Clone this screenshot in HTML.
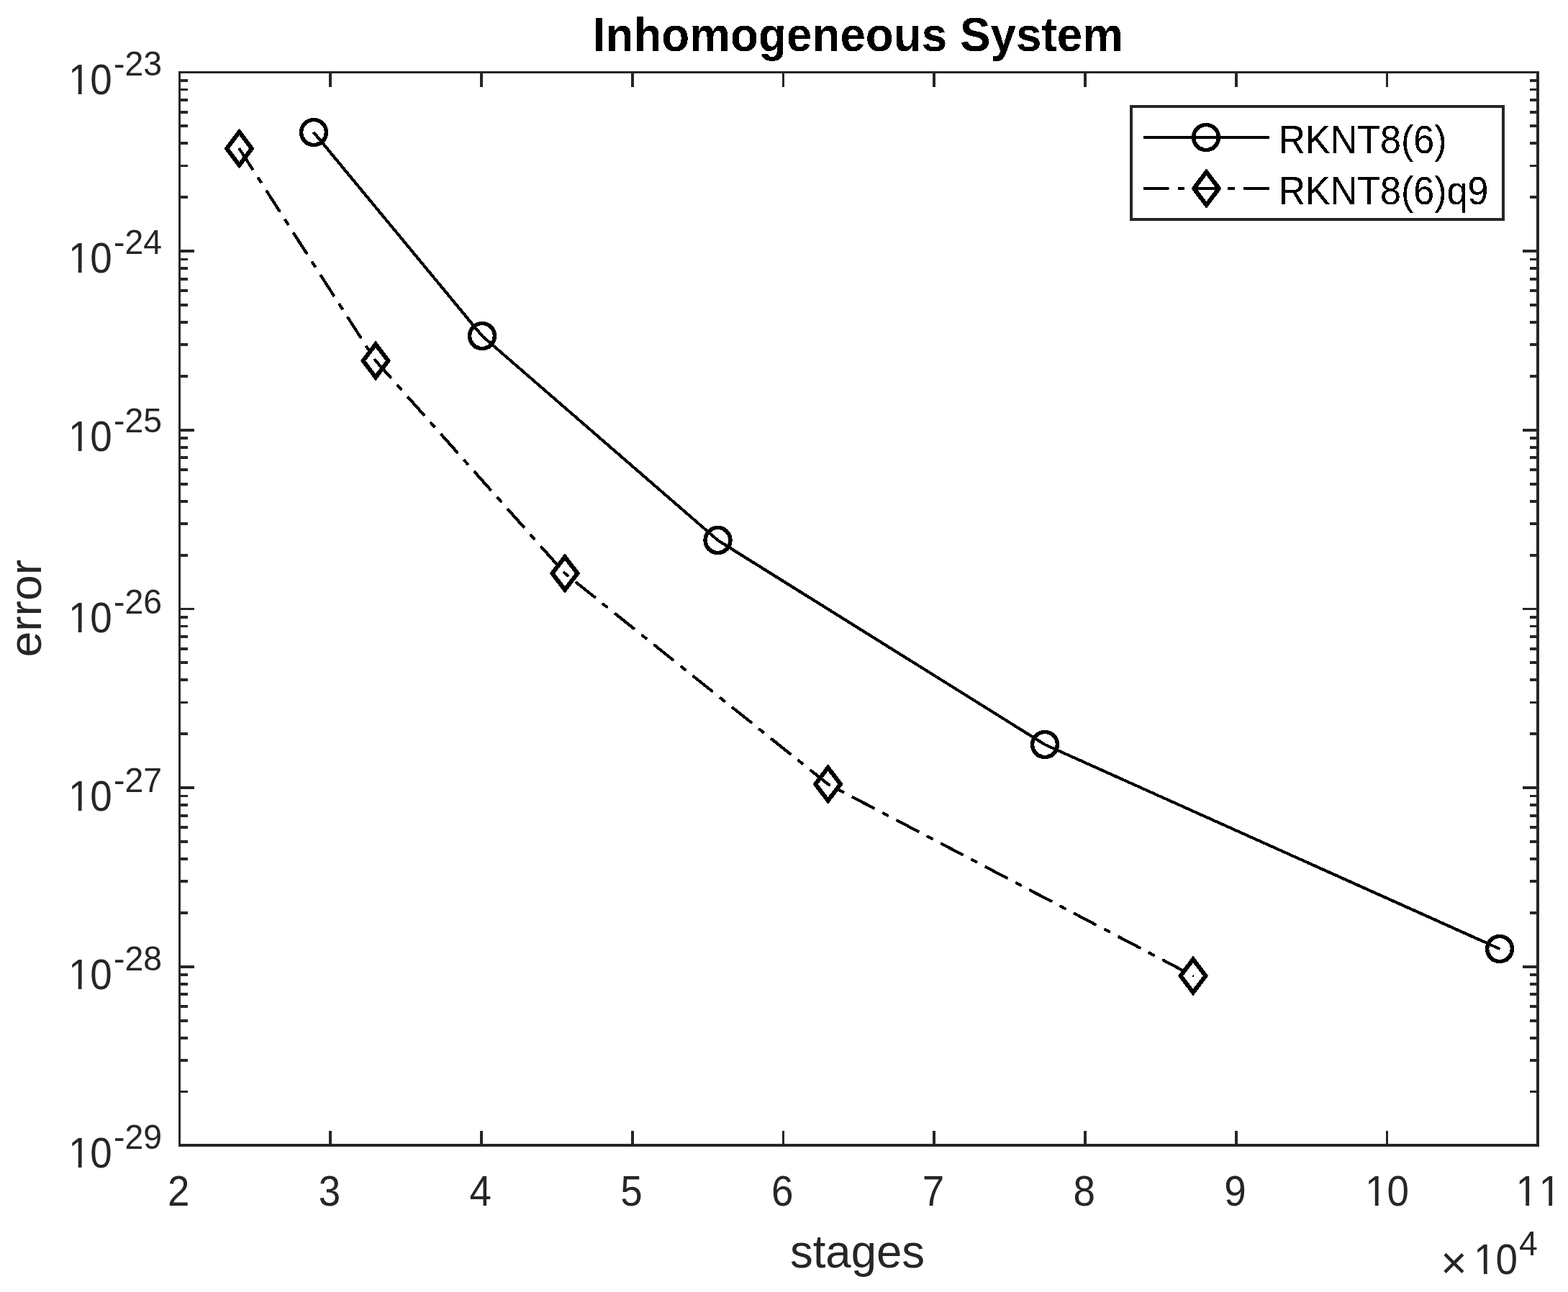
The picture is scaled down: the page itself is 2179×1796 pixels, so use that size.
<!DOCTYPE html>
<html lang="en"><head><meta charset="utf-8"><title>Inhomogeneous System</title>
<style>
html,body{margin:0;padding:0;background:#fff;}
body{width:2179px;height:1796px;overflow:hidden;}
svg{display:block;}
text{white-space:pre;font-kerning:none;font-variant-ligatures:none;}
</style></head><body>
<svg width="2179" height="1796" viewBox="0 0 2179 1796">
<defs><filter id="al" x="0" y="0" width="2179" height="1796" filterUnits="userSpaceOnUse" color-interpolation-filters="sRGB"><feComponentTransfer><feFuncA type="discrete" tableValues="0 1"/></feComponentTransfer></filter><filter id="am" x="0" y="0" width="2179" height="1796" filterUnits="userSpaceOnUse" color-interpolation-filters="sRGB"><feComponentTransfer><feFuncA type="linear" slope="255" intercept="0"/></feComponentTransfer></filter></defs>
<rect width="2179" height="1796" fill="#fff"/>
<g fill="#262626" shape-rendering="crispEdges"><rect x="248" y="99" width="1891" height="3"/><rect x="248" y="1590" width="1891" height="4"/><rect x="248" y="99" width="3" height="1495"/><rect x="2135" y="99" width="4" height="1495"/><rect x="457" y="1572" width="4" height="21"/><rect x="457" y="100" width="4" height="21"/><rect x="667" y="1572" width="4" height="21"/><rect x="667" y="100" width="4" height="21"/><rect x="877" y="1572" width="4" height="21"/><rect x="877" y="100" width="4" height="21"/><rect x="1087" y="1572" width="3" height="21"/><rect x="1087" y="100" width="3" height="21"/><rect x="1296" y="1572" width="4" height="21"/><rect x="1296" y="100" width="4" height="21"/><rect x="1506" y="1572" width="4" height="21"/><rect x="1506" y="100" width="4" height="21"/><rect x="1716" y="1572" width="4" height="21"/><rect x="1716" y="100" width="4" height="21"/><rect x="1926" y="1572" width="3" height="21"/><rect x="1926" y="100" width="3" height="21"/><rect x="249" y="1516" width="12" height="3"/><rect x="2126" y="1516" width="12" height="3"/><rect x="249" y="1472" width="12" height="4"/><rect x="2126" y="1472" width="12" height="4"/><rect x="249" y="1441" width="12" height="4"/><rect x="2126" y="1441" width="12" height="4"/><rect x="249" y="1417" width="12" height="4"/><rect x="2126" y="1417" width="12" height="4"/><rect x="249" y="1397" width="12" height="4"/><rect x="2126" y="1397" width="12" height="4"/><rect x="249" y="1380" width="12" height="4"/><rect x="2126" y="1380" width="12" height="4"/><rect x="249" y="1366" width="12" height="4"/><rect x="2126" y="1366" width="12" height="4"/><rect x="249" y="1353" width="12" height="4"/><rect x="2126" y="1353" width="12" height="4"/><rect x="249" y="1342" width="21" height="4"/><rect x="2116" y="1342" width="22" height="4"/><rect x="249" y="1267" width="12" height="4"/><rect x="2126" y="1267" width="12" height="4"/><rect x="249" y="1223" width="12" height="4"/><rect x="2126" y="1223" width="12" height="4"/><rect x="249" y="1192" width="12" height="4"/><rect x="2126" y="1192" width="12" height="4"/><rect x="249" y="1168" width="12" height="4"/><rect x="2126" y="1168" width="12" height="4"/><rect x="249" y="1148" width="12" height="4"/><rect x="2126" y="1148" width="12" height="4"/><rect x="249" y="1132" width="12" height="4"/><rect x="2126" y="1132" width="12" height="4"/><rect x="249" y="1117" width="12" height="4"/><rect x="2126" y="1117" width="12" height="4"/><rect x="249" y="1105" width="12" height="3"/><rect x="2126" y="1105" width="12" height="3"/><rect x="249" y="1093" width="21" height="4"/><rect x="2116" y="1093" width="22" height="4"/><rect x="249" y="1018" width="12" height="4"/><rect x="2126" y="1018" width="12" height="4"/><rect x="249" y="975" width="12" height="3"/><rect x="2126" y="975" width="12" height="3"/><rect x="249" y="943" width="12" height="4"/><rect x="2126" y="943" width="12" height="4"/><rect x="249" y="919" width="12" height="4"/><rect x="2126" y="919" width="12" height="4"/><rect x="249" y="900" width="12" height="4"/><rect x="2126" y="900" width="12" height="4"/><rect x="249" y="883" width="12" height="4"/><rect x="2126" y="883" width="12" height="4"/><rect x="249" y="869" width="12" height="3"/><rect x="2126" y="869" width="12" height="3"/><rect x="249" y="856" width="12" height="4"/><rect x="2126" y="856" width="12" height="4"/><rect x="249" y="845" width="21" height="3"/><rect x="2116" y="845" width="22" height="3"/><rect x="249" y="770" width="12" height="4"/><rect x="2126" y="770" width="12" height="4"/><rect x="249" y="726" width="12" height="4"/><rect x="2126" y="726" width="12" height="4"/><rect x="249" y="695" width="12" height="4"/><rect x="2126" y="695" width="12" height="4"/><rect x="249" y="671" width="12" height="4"/><rect x="2126" y="671" width="12" height="4"/><rect x="249" y="651" width="12" height="4"/><rect x="2126" y="651" width="12" height="4"/><rect x="249" y="634" width="12" height="4"/><rect x="2126" y="634" width="12" height="4"/><rect x="249" y="620" width="12" height="4"/><rect x="2126" y="620" width="12" height="4"/><rect x="249" y="607" width="12" height="4"/><rect x="2126" y="607" width="12" height="4"/><rect x="249" y="596" width="21" height="4"/><rect x="2116" y="596" width="22" height="4"/><rect x="249" y="521" width="12" height="4"/><rect x="2126" y="521" width="12" height="4"/><rect x="249" y="477" width="12" height="4"/><rect x="2126" y="477" width="12" height="4"/><rect x="249" y="446" width="12" height="4"/><rect x="2126" y="446" width="12" height="4"/><rect x="249" y="422" width="12" height="4"/><rect x="2126" y="422" width="12" height="4"/><rect x="249" y="402" width="12" height="4"/><rect x="2126" y="402" width="12" height="4"/><rect x="249" y="386" width="12" height="4"/><rect x="2126" y="386" width="12" height="4"/><rect x="249" y="371" width="12" height="4"/><rect x="2126" y="371" width="12" height="4"/><rect x="249" y="359" width="12" height="3"/><rect x="2126" y="359" width="12" height="3"/><rect x="249" y="347" width="21" height="4"/><rect x="2116" y="347" width="22" height="4"/><rect x="249" y="272" width="12" height="4"/><rect x="2126" y="272" width="12" height="4"/><rect x="249" y="229" width="12" height="3"/><rect x="2126" y="229" width="12" height="3"/><rect x="249" y="197" width="12" height="4"/><rect x="2126" y="197" width="12" height="4"/><rect x="249" y="173" width="12" height="4"/><rect x="2126" y="173" width="12" height="4"/><rect x="249" y="154" width="12" height="4"/><rect x="2126" y="154" width="12" height="4"/><rect x="249" y="137" width="12" height="4"/><rect x="2126" y="137" width="12" height="4"/><rect x="249" y="123" width="12" height="3"/><rect x="2126" y="123" width="12" height="3"/><rect x="249" y="110" width="12" height="4"/><rect x="2126" y="110" width="12" height="4"/></g>
<g fill="#262626" font-family="'Liberation Sans', Arial, Helvetica, sans-serif"><text transform="translate(94.90 131.05) scale(0.945 1.028)" font-size="58">10</text><text transform="translate(158.10 104.85) scale(1.0 1.035)" font-size="46.4">-23</text><text transform="translate(94.90 378.90) scale(0.945 1.028)" font-size="58">10</text><text transform="translate(158.10 352.70) scale(1.0 1.035)" font-size="46.4">-24</text><text transform="translate(94.90 627.00) scale(0.945 1.028)" font-size="58">10</text><text transform="translate(158.10 600.80) scale(1.0 1.035)" font-size="46.4">-25</text><text transform="translate(94.90 879.00) scale(0.945 1.028)" font-size="58">10</text><text transform="translate(158.10 852.80) scale(1.0 1.035)" font-size="46.4">-26</text><text transform="translate(94.90 1126.80) scale(0.945 1.028)" font-size="58">10</text><text transform="translate(158.10 1100.60) scale(1.0 1.035)" font-size="46.4">-27</text><text transform="translate(94.90 1375.05) scale(0.945 1.028)" font-size="58">10</text><text transform="translate(158.10 1348.85) scale(1.0 1.035)" font-size="46.4">-28</text><text transform="translate(94.90 1623.05) scale(0.945 1.028)" font-size="58">10</text><text transform="translate(158.10 1596.85) scale(1.0 1.035)" font-size="46.4">-29</text><text transform="translate(248.20 1675.85) scale(0.945 1.028)" font-size="58" text-anchor="middle">2</text><text transform="translate(457.95 1675.85) scale(0.945 1.028)" font-size="58" text-anchor="middle">3</text><text transform="translate(667.70 1675.85) scale(0.945 1.028)" font-size="58" text-anchor="middle">4</text><text transform="translate(877.45 1675.85) scale(0.945 1.028)" font-size="58" text-anchor="middle">5</text><text transform="translate(1087.20 1675.85) scale(0.945 1.028)" font-size="58" text-anchor="middle">6</text><text transform="translate(1296.95 1675.85) scale(0.945 1.028)" font-size="58" text-anchor="middle">7</text><text transform="translate(1506.70 1675.85) scale(0.945 1.028)" font-size="58" text-anchor="middle">8</text><text transform="translate(1716.45 1675.85) scale(0.945 1.028)" font-size="58" text-anchor="middle">9</text><text transform="translate(1927.50 1675.85) scale(0.945 1.028)" font-size="58" text-anchor="middle">10</text><text transform="translate(2106.47 1675.85) scale(0.945 1.028)" font-size="58" letter-spacing="1.6">11</text><text transform="translate(1191.50 1761.80) scale(0.996 1.025)" font-size="63.8" text-anchor="middle">stages</text><text transform="translate(56.95 845.75) rotate(-90) scale(1.0071 1.0)" font-size="63.8" text-anchor="middle">error</text><text transform="translate(2001.95 1777.43)" font-size="63">×</text><text transform="translate(2048.10 1770.90) scale(0.945 1.028)" font-size="58">10</text><text transform="translate(2111.00 1744.95) scale(1.0 1.025)" font-size="46.4">4</text></g>
<g fill="#fff"><rect x="98.08" y="125.60" width="10.61" height="6.45"/><rect x="113.52" y="125.60" width="10.18" height="6.45"/><rect x="98.08" y="373.45" width="10.61" height="6.45"/><rect x="113.52" y="373.45" width="10.18" height="6.45"/><rect x="98.08" y="621.55" width="10.61" height="6.45"/><rect x="113.52" y="621.55" width="10.18" height="6.45"/><rect x="98.08" y="873.55" width="10.61" height="6.45"/><rect x="113.52" y="873.55" width="10.18" height="6.45"/><rect x="98.08" y="1121.35" width="10.61" height="6.45"/><rect x="113.52" y="1121.35" width="10.18" height="6.45"/><rect x="98.08" y="1369.60" width="10.61" height="6.45"/><rect x="113.52" y="1369.60" width="10.18" height="6.45"/><rect x="98.08" y="1617.60" width="10.61" height="6.45"/><rect x="113.52" y="1617.60" width="10.18" height="6.45"/><rect x="1900.19" y="1670.40" width="10.61" height="6.45"/><rect x="1915.64" y="1670.40" width="10.18" height="6.45"/><rect x="2109.65" y="1670.40" width="10.61" height="6.45"/><rect x="2125.09" y="1670.40" width="10.18" height="6.45"/><rect x="2141.64" y="1670.40" width="10.61" height="6.45"/><rect x="2157.09" y="1670.40" width="10.18" height="6.45"/><rect x="2051.28" y="1765.45" width="10.61" height="6.45"/><rect x="2066.72" y="1765.45" width="10.18" height="6.45"/></g>
<g fill="#000" font-family="'Liberation Sans', Arial, Helvetica, sans-serif" filter="url(#al)"><text transform="translate(1776.40 213.00) scale(0.9975 1.05)" font-size="52.2">RKNT8(6)</text><text transform="translate(1776.40 284.30) scale(0.9975 1.05)" font-size="52.2">RKNT8(6)q9</text><text transform="translate(1192.30 71.20) scale(1.0 1.035)" font-size="63.8" text-anchor="middle" font-weight="bold">Inhomogeneous System</text></g>
<g fill="none" stroke="#000" filter="url(#am)"><circle cx="436.00" cy="184.00" r="17.4" stroke-width="4.5"/><circle cx="670.00" cy="467.00" r="17.4" stroke-width="4.5"/><circle cx="997.50" cy="751.00" r="17.4" stroke-width="4.5"/><circle cx="1452.00" cy="1035.00" r="17.4" stroke-width="4.5"/><circle cx="2084.00" cy="1319.00" r="17.4" stroke-width="4.5"/><path d="M332.50 183.48L349.95 206.50L332.50 229.52L315.05 206.50Z" stroke-width="4.75" stroke-linejoin="miter" stroke-miterlimit="10"/><path d="M522.00 478.48L539.45 501.50L522.00 524.52L504.55 501.50Z" stroke-width="4.75" stroke-linejoin="miter" stroke-miterlimit="10"/><path d="M785.00 773.98L802.45 797.00L785.00 820.02L767.55 797.00Z" stroke-width="4.75" stroke-linejoin="miter" stroke-miterlimit="10"/><path d="M1150.60 1066.98L1168.05 1090.00L1150.60 1113.02L1133.15 1090.00Z" stroke-width="4.75" stroke-linejoin="miter" stroke-miterlimit="10"/><path d="M1658.00 1333.48L1675.45 1356.50L1658.00 1379.52L1640.55 1356.50Z" stroke-width="4.75" stroke-linejoin="miter" stroke-miterlimit="10"/><circle cx="1676.00" cy="191.00" r="17.4" stroke-width="4.5"/><path d="M1676.50 238.98L1693.95 262.00L1676.50 285.02L1659.05 262.00Z" stroke-width="4.75" stroke-linejoin="miter" stroke-miterlimit="10"/></g>
<g fill="none" stroke="#000" filter="url(#am)"><polyline points="436.00,184.00 670.00,467.00 997.50,751.00 1452.00,1035.00 2084.00,1319.00" stroke-width="2.9" stroke-linejoin="round"/><polyline points="332.50,206.50 522.00,501.50 785.00,797.00 1150.60,1090.00 1658.40,1356.71" stroke-width="2.9" stroke-dasharray="34.8 13.05 8.7 13.05" stroke-linejoin="round"/><line x1="1589.06" y1="191" x2="1764.0" y2="191" stroke-width="2.9"/><line x1="1589.06" y1="262" x2="1764.0" y2="262" stroke-width="2.9" stroke-dasharray="35 13 8.7 13"/></g>
<g fill="#262626" shape-rendering="crispEdges"><rect x="1570" y="146" width="521" height="4"/><rect x="1570" y="303" width="521" height="4"/><rect x="1570" y="146" width="4" height="161"/><rect x="2087" y="146" width="4" height="161"/></g>
</svg>
</body></html>
